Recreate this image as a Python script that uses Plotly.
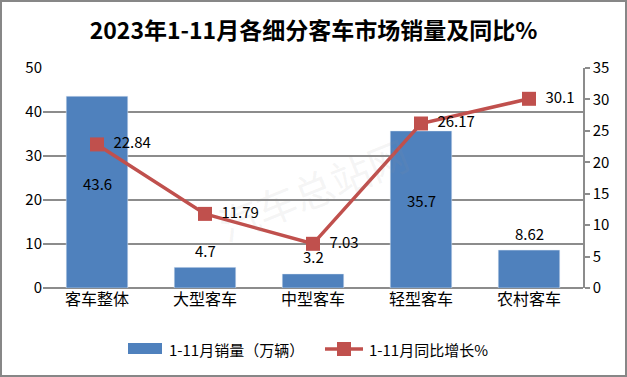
import plotly.graph_objects as go

categories = ["客车整体", "大型客车", "中型客车", "轻型客车", "农村客车"]
sales = [43.6, 4.7, 3.2, 35.7, 8.62]
growth = [22.84, 11.79, 7.03, 26.17, 30.1]
sales_labels = ["43.6", "4.7", "3.2", "35.7", "8.62"]
growth_labels = ["22.84", "11.79", "7.03", "26.17", "30.1"]
series_names = ["1-11月销量（万辆）", "1-11月同比增长%"]

font = "Noto Sans CJK SC, Microsoft YaHei, sans-serif"
grid = "#8c8c8c"
bar_color = "#4F81BD"
line_color = "#C0504D"

W, H = 627, 377
l, r, t, b = 43, 44, 68, 89
pw, ph = W - l - r, H - t - b


def px(x):
    return (x - l) / pw


def py(y):
    return (H - b - y) / ph


fig = go.Figure()
fig.add_trace(go.Bar(
    x=categories, y=sales, name=series_names[0],
    marker=dict(color=bar_color), width=0.57,
    yaxis="y", showlegend=False,
))
fig.add_trace(go.Scatter(
    x=categories, y=growth, name=series_names[1],
    mode="lines+markers+text",
    line=dict(color=line_color, width=3.5),
    marker=dict(symbol="square", size=14, color=line_color),
    text=["  " + s for s in growth_labels], textposition="middle right",
    textfont=dict(size=15, color="black", family=font),
    yaxis="y2", showlegend=False,
))

# bar labels
inside = [True, False, False, True, False]
for c, v, txt, ins in zip(categories, sales, sales_labels, inside):
    if ins:
        fig.add_annotation(x=c, y=v * 0.5 + 2, text=txt, showarrow=False,
                           xref="x", yref="y",
                           font=dict(size=15, color="black", family=font))
    else:
        fig.add_annotation(x=c, y=v, text=txt, showarrow=False, yshift=17,
                           xref="x", yref="y",
                           font=dict(size=15, color="black", family=font))

# watermark
fig.add_annotation(x=0.5, y=0.45, xref="paper", yref="paper", text="汽车总站网",
                   showarrow=False, textangle=-22,
                   font=dict(size=40, color="rgba(150,150,150,0.10)", family=font))

# custom legend
fig.add_shape(type="rect", xref="paper", yref="paper",
              x0=px(128), x1=px(162), y0=py(354), y1=py(343),
              line=dict(width=0), fillcolor=bar_color)
fig.add_annotation(x=px(167), y=py(349), xref="paper", yref="paper",
                   text=series_names[0], showarrow=False, xanchor="left",
                   yanchor="middle", font=dict(size=15, family=font, color="black"))
fig.add_shape(type="line", xref="paper", yref="paper",
              x0=px(325), x1=px(363), y0=py(349), y1=py(349),
              line=dict(color=line_color, width=3.5))
fig.add_shape(type="rect", xref="paper", yref="paper",
              x0=px(337), x1=px(351), y0=py(356), y1=py(342),
              line=dict(width=0), fillcolor=line_color)
fig.add_annotation(x=px(367), y=py(349), xref="paper", yref="paper",
                   text=series_names[1], showarrow=False, xanchor="left",
                   yanchor="middle", font=dict(size=15, family=font, color="black"))

# outer border
fig.add_shape(type="rect", xref="paper", yref="paper",
              x0=px(1), x1=px(W - 1), y0=py(H - 1), y1=py(1),
              line=dict(color="#878787", width=2))

fig.update_layout(
    width=W, height=H,
    margin=dict(l=l, r=r, t=t, b=b, autoexpand=False),
    paper_bgcolor="white", plot_bgcolor="white",
    title=dict(text="<b>2023年1-11月各细分客车市场销量及同比%</b>",
               x=0.5, xanchor="center", y=1 - 31 / H, yanchor="middle",
               font=dict(size=23, color="black", family=font)),
    font=dict(family=font, size=15, color="black"),
    showlegend=False,
    xaxis=dict(showgrid=False, showline=False, ticks="", tickfont=dict(size=16),
               automargin=False),
    yaxis=dict(range=[0, 50], dtick=10, showgrid=True, gridcolor=grid, gridwidth=1.5,
               showline=False, zeroline=True, zerolinecolor=grid, zerolinewidth=1.5,
               tickfont=dict(size=15), ticks="", automargin=False),
    yaxis2=dict(range=[0, 35], dtick=5, overlaying="y", side="right", showgrid=False,
                showline=True, linecolor=grid, linewidth=1.5, ticks="outside",
                ticklen=5, tickcolor=grid, tickwidth=1.5, zeroline=False,
                tickfont=dict(size=15), automargin=False),
)

fig.write_html("out.html", config={"displayModeBar": False},
               post_script="document.body.style.margin='0';")
